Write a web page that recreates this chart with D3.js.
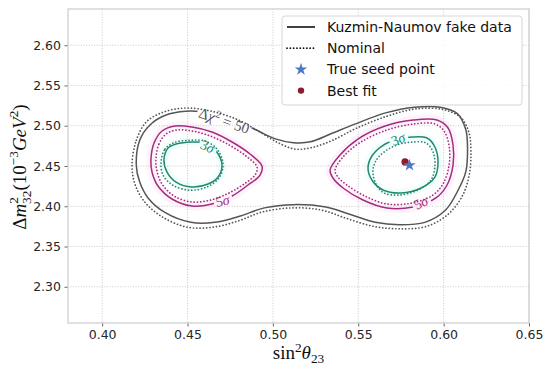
<!DOCTYPE html>
<html><head><meta charset="utf-8">
<script src="https://cdn.jsdelivr.net/npm/d3@7"></script>
<style>body{margin:0;background:#fff} svg{display:block}</style>
</head><body>
<svg id="c" width="550" height="369"></svg>
<script>
// ---------- data ----------
const xTicks = [0.40, 0.45, 0.50, 0.55, 0.60, 0.65];
const yTicks = [2.30, 2.35, 2.40, 2.45, 2.50, 2.55, 2.60];
const xDomain = [0.38, 0.65];
const yDomain = [2.255, 2.645];

// Kuzmin-Naumov fake data, Δχ²=50 (solid)
const kn50 = [[0.420,2.451],[0.422,2.482],[0.428,2.501],[0.437,2.513],[0.449,2.518],[0.463,2.516],[0.478,2.507],[0.490,2.495],[0.501,2.484],[0.512,2.479],[0.522,2.480],[0.534,2.490],[0.548,2.502],[0.566,2.516],[0.583,2.523],[0.598,2.523],[0.608,2.515],[0.613,2.495],[0.614,2.470],[0.613,2.443],[0.608,2.418],[0.601,2.395],[0.589,2.380],[0.574,2.377],[0.560,2.380],[0.545,2.390],[0.531,2.399],[0.512,2.402],[0.495,2.398],[0.481,2.388],[0.466,2.380],[0.452,2.380],[0.437,2.392],[0.427,2.410],[0.422,2.430]];
// Nominal, Δχ²=50 (dotted)
const nom50 = [[0.4175,2.451],[0.420,2.482],[0.426,2.505],[0.436,2.517],[0.449,2.522],[0.464,2.518],[0.480,2.507],[0.4925,2.492],[0.503,2.479],[0.513,2.471],[0.523,2.473],[0.535,2.482],[0.549,2.497],[0.567,2.512],[0.584,2.521],[0.600,2.520],[0.6102,2.510],[0.6149,2.491],[0.616,2.467],[0.615,2.439],[0.611,2.413],[0.6026,2.390],[0.590,2.375],[0.574,2.372],[0.559,2.375],[0.543,2.385],[0.529,2.395],[0.512,2.398],[0.494,2.393],[0.480,2.382],[0.465,2.374],[0.450,2.374],[0.435,2.387],[0.4245,2.4065],[0.419,2.429]];
// 5σ islands
const kn5sL = [[0.4286,2.4587],[0.4304,2.4786],[0.4351,2.4935],[0.4427,2.4997],[0.4526,2.4984],[0.4643,2.4922],[0.4761,2.4798],[0.4866,2.4649],[0.4936,2.4500],[0.4925,2.4388],[0.4854,2.4264],[0.4761,2.4127],[0.4643,2.4028],[0.4526,2.4003],[0.4409,2.4090],[0.4327,2.4251],[0.4292,2.4425]];
const nom5sL = [[0.4315,2.4587],[0.4333,2.4773],[0.4374,2.4897],[0.4438,2.4947],[0.4526,2.4935],[0.4632,2.4873],[0.4743,2.4761],[0.4842,2.4624],[0.4907,2.4488],[0.4895,2.4388],[0.4831,2.4276],[0.4743,2.4165],[0.4637,2.4078],[0.4526,2.4053],[0.4421,2.4127],[0.4351,2.4276],[0.4321,2.4438]];
const kn5sR = [[0.5335,2.4450],[0.5393,2.4637],[0.5498,2.4835],[0.5657,2.4997],[0.5821,2.5071],[0.5961,2.5071],[0.6026,2.4972],[0.6055,2.4761],[0.6055,2.4512],[0.6020,2.4264],[0.5955,2.4103],[0.5821,2.3991],[0.5668,2.3978],[0.5528,2.4078],[0.5411,2.4227],[0.5352,2.4351]];
const nom5sR = [[0.5364,2.4450],[0.5416,2.4624],[0.5516,2.4798],[0.5668,2.4947],[0.5826,2.5022],[0.5949,2.5022],[0.6002,2.4935],[0.6032,2.4748],[0.6032,2.4512],[0.5996,2.4276],[0.5938,2.4140],[0.5815,2.4040],[0.5668,2.4028],[0.5539,2.4127],[0.5434,2.4264],[0.5381,2.4363]];
// 3σ islands
const kn3sL = [[0.4362,2.4574],[0.4386,2.4724],[0.4433,2.4773],[0.4526,2.4798],[0.4602,2.4786],[0.4667,2.4686],[0.4702,2.4512],[0.4679,2.4363],[0.4620,2.4276],[0.4526,2.4239],[0.4433,2.4301],[0.4380,2.4425]];
const nom3sL = [[0.4345,2.455],[0.4368,2.471],[0.4421,2.479],[0.4515,2.482],[0.4602,2.481],[0.4673,2.471],[0.4708,2.452],[0.4684,2.435],[0.4614,2.424],[0.4515,2.420],[0.4415,2.426],[0.4356,2.439]];
const kn3sR = [[0.5557,2.4475],[0.5580,2.4624],[0.5639,2.4748],[0.5733,2.4835],[0.5815,2.4860],[0.5903,2.4848],[0.5949,2.4736],[0.5967,2.4550],[0.5949,2.4363],[0.5868,2.4227],[0.5750,2.4165],[0.5645,2.4202],[0.5580,2.4326]];
const nom3sR = [[0.5586,2.4450],[0.5610,2.4587],[0.5668,2.4699],[0.5744,2.4773],[0.5821,2.4798],[0.5897,2.4786],[0.5938,2.4674],[0.5949,2.4500],[0.5926,2.4326],[0.5850,2.4202],[0.5744,2.4140],[0.5651,2.4165],[0.5604,2.4276]];

const trueSeed = [0.580, 2.451];
const bestFit = [0.5774, 2.455];
const legendLabels = ["Kuzmin-Naumov fake data", "Nominal", "True seed point", "Best fit"];

// contour inline labels: [contour key, label parts, x, y, angle]
const contourLabels = [
  ["kn50", [["Δ","n"],["χ","i"],["2","sup"],[" = 50","n"]], 0.4715, 2.5065, 19],
  ["kn3sL", [["3","n"],["σ","i"]], 0.4618, 2.4745, 26],
  ["kn5sL", [["5","n"],["σ","i"]], 0.4705, 2.4068, -12],
  ["kn3sR", [["3","n"],["σ","i"]], 0.5733, 2.4835, -20],
  ["kn5sR", [["5","n"],["σ","i"]], 0.5866, 2.4045, -26]
];

// ---------- drawing ----------
const W = 550, H = 369;
const L = 68, R = 529, T = 9, B = 323;
const GRAY = "#555555", MAG = "#a32d7f", TEAL = "#24876f";
const svg = d3.select("#c");
const x = d3.scaleLinear().domain(xDomain).range([L, R]);
const y = d3.scaleLinear().domain(yDomain).range([B, T]);

svg.append("rect").attr("width", W).attr("height", H).attr("fill", "#fff");

// grid
const grid = svg.append("g");
grid.selectAll("line.gx").data(xTicks).join("line")
  .attr("x1", d => x(d)).attr("x2", d => x(d)).attr("y1", T).attr("y2", B)
  .attr("stroke", "#bdbdbd").attr("stroke-width", 0.8).attr("stroke-dasharray", "1,1.6");
grid.selectAll("line.gy").data(yTicks).join("line")
  .attr("y1", d => y(d)).attr("y2", d => y(d)).attr("x1", L).attr("x2", R)
  .attr("stroke", "#bdbdbd").attr("stroke-width", 0.8).attr("stroke-dasharray", "1,1.6");

// axes
const fmt = d3.format(".2f");
const gx = svg.append("g").attr("transform", `translate(0,${B})`)
  .call(d3.axisBottom(x).tickValues(xTicks).tickFormat(fmt).tickSize(3.5).tickPadding(4));
const gy = svg.append("g").attr("transform", `translate(${L},0)`)
  .call(d3.axisLeft(y).tickValues(yTicks).tickFormat(fmt).tickSize(3.5).tickPadding(3.5));
[gx, gy].forEach(g => {
  g.select(".domain").remove();
  g.selectAll(".tick line").attr("stroke", "#555").attr("stroke-width", 0.9);
  g.selectAll(".tick text").attr("fill", "#262626")
    .style("font-family", "DejaVu Sans").style("font-size", "12.5px");
});

// frame
svg.append("rect").attr("x", L).attr("y", T).attr("width", R - L).attr("height", B - T)
  .attr("fill", "none").attr("stroke", "#cccccc").attr("stroke-width", 1.2);

// contours
const line = d3.line().x(d => x(d[0])).y(d => y(d[1])).curve(d3.curveCatmullRomClosed.alpha(0.5));
const defs = svg.append("defs");
const gH = svg.append("g");
const gC = svg.append("g");
const contours = {
  nom50: [nom50, GRAY, true], nom5sL: [nom5sL, MAG, true], nom5sR: [nom5sR, MAG, true],
  nom3sL: [nom3sL, TEAL, true], nom3sR: [nom3sR, TEAL, true],
  kn50: [kn50, GRAY, false], kn5sL: [kn5sL, MAG, false], kn5sR: [kn5sR, MAG, false],
  kn3sL: [kn3sL, TEAL, false], kn3sR: [kn3sR, TEAL, false]
};
// faint colour halo seen around the coloured contours
[[kn5sL, "#ff7ad6"], [kn5sR, "#ff7ad6"], [kn3sL, "#6ff5e0"], [kn3sR, "#6ff5e0"]].forEach(([pts, c]) => {
  gH.append("path").attr("d", line(pts)).attr("fill", "none").attr("stroke", c)
    .attr("stroke-width", 9).attr("stroke-opacity", 0.09);
});
const paths = {};
Object.entries(contours).forEach(([k, [pts, col, dotted]]) => {
  const p = gC.append("path").attr("d", line(pts)).attr("fill", "none")
    .attr("stroke", col).attr("stroke-width", dotted ? 1.7 : 1.5)
    .attr("stroke-linecap", "round");
  if (dotted) p.attr("stroke-dasharray", "0.1,3.2");
  paths[k] = p;
});

// contour labels with line gaps
const gL = svg.append("g");
function addParts(t, parts, size) {
  let shifted = 0;
  parts.forEach(([s, st]) => {
    const ts = t.append("tspan").text(s);
    if (st === "i") ts.style("font-style", "italic");
    if (st === "sup") {
      ts.style("font-size", (size * 0.7) + "px").attr("dy", -size * 0.38); shifted = size * 0.38;
    } else if (st === "sub") {
      ts.style("font-size", (size * 0.7) + "px").attr("dy", size * 0.22); shifted = -size * 0.22;
    } else if (shifted !== 0) { ts.attr("dy", shifted); shifted = 0; }
  });
}
contourLabels.forEach(([key, parts, lx, ly, ang], i) => {
  const col = contours[key][1];
  const size = key === "kn50" ? 15 : 14;
  const g = gL.append("g").attr("transform", `translate(${x(lx)},${y(ly)}) rotate(${ang})`);
  const t = g.append("text").attr("text-anchor", "middle").attr("y", size * 0.35)
    .attr("fill", col).style("font-family", "Liberation Serif").style("font-size", size + "px");
  addParts(t, parts, size);
  const bb = t.node().getBBox();
  const m = defs.append("mask").attr("id", "m" + i).attr("maskUnits", "userSpaceOnUse")
    .attr("x", 0).attr("y", 0).attr("width", W).attr("height", H);
  m.append("rect").attr("width", W).attr("height", H).attr("fill", "#fff");
  m.append("rect").attr("transform", `translate(${x(lx)},${y(ly)}) rotate(${ang})`)
    .attr("x", bb.x - 2).attr("y", -size * 0.45).attr("width", bb.width + 4).attr("height", size * 0.9)
    .attr("fill", "#000");
  paths[key].attr("mask", `url(#m${i})`);
});

// points
svg.append("circle").attr("cx", x(bestFit[0])).attr("cy", y(bestFit[1])).attr("r", 3.6).attr("fill", "#8c1b2e");
svg.append("path").attr("d", d3.symbol(d3.symbolStar, 48)())
  .attr("transform", `translate(${x(trueSeed[0])},${y(trueSeed[1])})`).attr("fill", "#4a79c6");

// legend
const lg = svg.append("g");
lg.append("rect").attr("x", 282).attr("y", 16).attr("width", 240).attr("height", 89).attr("rx", 3)
  .attr("fill", "#fff").attr("fill-opacity", 0.85).attr("stroke", "#d6d6d6").attr("stroke-width", 1);
legendLabels.forEach((lab, i) => {
  const yy = 27 + i * 21.2;
  if (i === 0) lg.append("line").attr("x1", 287).attr("x2", 315).attr("y1", yy).attr("y2", yy)
    .attr("stroke", "#111").attr("stroke-width", 1.6);
  if (i === 1) lg.append("line").attr("x1", 287).attr("x2", 315).attr("y1", yy).attr("y2", yy)
    .attr("stroke", "#111").attr("stroke-width", 1.7).attr("stroke-dasharray", "0.1,3.2").attr("stroke-linecap", "round");
  if (i === 2) lg.append("path").attr("d", d3.symbol(d3.symbolStar, 48)())
    .attr("transform", `translate(301,${yy})`).attr("fill", "#4a79c6");
  if (i === 3) lg.append("circle").attr("cx", 301).attr("cy", yy).attr("r", 3.2).attr("fill", "#8c1b2e");
  lg.append("text").attr("x", 327).attr("y", yy + 5).text(lab).attr("fill", "#111")
    .style("font-family", "DejaVu Sans").style("font-size", "14px");
});

// axis labels
const xl = svg.append("text").attr("x", (L + R) / 2).attr("y", 359).attr("text-anchor", "middle")
  .attr("fill", "#111").style("font-family", "Liberation Serif").style("font-size", "19px");
addParts(xl, [["sin","n"],["2","sup"],["θ","i"],["23","sub"]], 19);

const yl = svg.append("text").attr("transform", `translate(26,${(T + B) / 2 + 1}) rotate(-90)`)
  .attr("text-anchor", "middle").attr("fill", "#111")
  .style("font-family", "Liberation Serif").style("font-size", "19px");
(function(){
  const s = 19;
  yl.append("tspan").text("Δ");
  yl.append("tspan").text("m").style("font-style", "italic");
  yl.append("tspan").text("2").style("font-size", s*0.7 + "px").attr("dy", -s*0.4);
  yl.append("tspan").text("32").style("font-size", s*0.7 + "px").attr("dy", s*0.65).attr("dx", -s*0.36);
  yl.append("tspan").text("(10").attr("dy", -s*0.25);
  yl.append("tspan").text("−3").style("font-size", s*0.7 + "px").attr("dy", -s*0.4);
  yl.append("tspan").text("GeV").style("font-style", "italic").attr("dy", s*0.4);
  yl.append("tspan").text("2").style("font-size", s*0.7 + "px").attr("dy", -s*0.4);
  yl.append("tspan").text(")").attr("dy", s*0.4);
})();
</script>
</body></html>
